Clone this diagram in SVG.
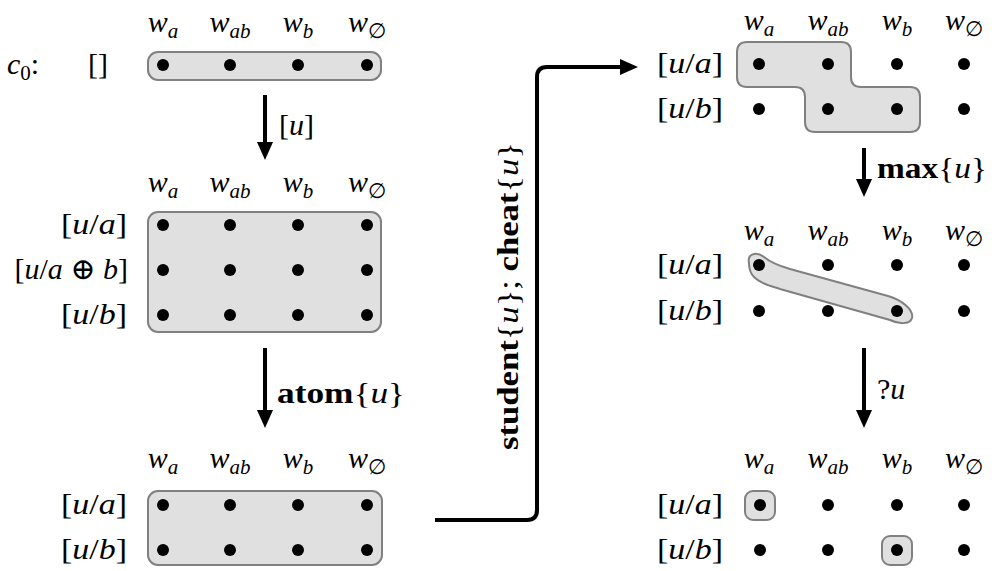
<svg xmlns="http://www.w3.org/2000/svg" width="995" height="571" viewBox="0 0 995 571">
<style>
.t{font-family:"Liberation Serif","DejaVu Serif",serif;font-size:30px;fill:#000}
.i{font-style:italic}
.b{font-weight:bold}
.s{font-size:21px}
.box{fill:#e0e0e0;stroke:#808080;stroke-width:2}
.arr{stroke:#000;stroke-width:4;fill:none;marker-end:url(#ah)}
.cl{text-anchor:middle}
.rl{text-anchor:end}
</style>
<defs>
<marker id="ah" viewBox="0 0 18 16" markerWidth="18" markerHeight="16" refX="1" refY="8" orient="auto" markerUnits="userSpaceOnUse"><path d="M0,0 L18,8 L0,16 Z" fill="#000"/></marker>
<circle id="d" r="6" fill="#000"/>
</defs>

<g id="c0">
<text class="t" x="7" y="74"><tspan class="i">c</tspan><tspan class="s" dy="6">0</tspan><tspan dy="-6">:</tspan></text>
<text class="t" x="88" y="74">[]</text>
<text class="t cl" x="163" y="32"><tspan class="i">w</tspan><tspan class="i s" dy="6">a</tspan></text>
<text class="t cl" x="230" y="32"><tspan class="i">w</tspan><tspan class="i s" dy="6">ab</tspan></text>
<text class="t cl" x="298" y="32"><tspan class="i">w</tspan><tspan class="i s" dy="6">b</tspan></text>
<text class="t cl" x="367" y="32"><tspan class="i">w</tspan><tspan class="s" dy="6">∅</tspan></text>
<rect class="box" x="148" y="52" width="233" height="28" rx="10"/>
<use href="#d" x="163" y="65"/><use href="#d" x="230" y="65"/><use href="#d" x="298" y="65"/><use href="#d" x="367" y="65"/>
</g>

<g id="c1">
<text class="t cl" x="163" y="192"><tspan class="i">w</tspan><tspan class="i s" dy="6">a</tspan></text>
<text class="t cl" x="230" y="192"><tspan class="i">w</tspan><tspan class="i s" dy="6">ab</tspan></text>
<text class="t cl" x="298" y="192"><tspan class="i">w</tspan><tspan class="i s" dy="6">b</tspan></text>
<text class="t cl" x="367" y="192"><tspan class="i">w</tspan><tspan class="s" dy="6">∅</tspan></text>
<text class="t" x="61" y="234" textLength="66" lengthAdjust="spacingAndGlyphs">[<tspan class="i">u</tspan>/<tspan class="i">a</tspan>]</text>
<text class="t rl" x="128" y="279">[<tspan class="i">u</tspan>/<tspan class="i">a</tspan> ⊕ <tspan class="i">b</tspan>]</text>
<text class="t" x="61" y="324" textLength="66" lengthAdjust="spacingAndGlyphs">[<tspan class="i">u</tspan>/<tspan class="i">b</tspan>]</text>
<rect class="box" x="148" y="212" width="233" height="120" rx="10"/>
<use href="#d" x="163" y="225"/><use href="#d" x="230" y="225"/><use href="#d" x="298" y="225"/><use href="#d" x="367" y="225"/>
<use href="#d" x="163" y="270"/><use href="#d" x="230" y="270"/><use href="#d" x="298" y="270"/><use href="#d" x="367" y="270"/>
<use href="#d" x="163" y="315"/><use href="#d" x="230" y="315"/><use href="#d" x="298" y="315"/><use href="#d" x="367" y="315"/>
</g>

<g id="c2">
<text class="t cl" x="163" y="468"><tspan class="i">w</tspan><tspan class="i s" dy="6">a</tspan></text>
<text class="t cl" x="230" y="468"><tspan class="i">w</tspan><tspan class="i s" dy="6">ab</tspan></text>
<text class="t cl" x="298" y="468"><tspan class="i">w</tspan><tspan class="i s" dy="6">b</tspan></text>
<text class="t cl" x="367" y="468"><tspan class="i">w</tspan><tspan class="s" dy="6">∅</tspan></text>
<text class="t" x="61" y="514" textLength="66" lengthAdjust="spacingAndGlyphs">[<tspan class="i">u</tspan>/<tspan class="i">a</tspan>]</text>
<text class="t" x="61" y="559" textLength="66" lengthAdjust="spacingAndGlyphs">[<tspan class="i">u</tspan>/<tspan class="i">b</tspan>]</text>
<rect class="box" x="148" y="491" width="234" height="74" rx="10"/>
<use href="#d" x="163" y="505"/><use href="#d" x="230" y="505"/><use href="#d" x="298" y="505"/><use href="#d" x="367" y="505"/>
<use href="#d" x="163" y="550"/><use href="#d" x="230" y="550"/><use href="#d" x="298" y="550"/><use href="#d" x="367" y="550"/>
</g>

<g id="c3">
<text class="t cl" x="759" y="30"><tspan class="i">w</tspan><tspan class="i s" dy="6">a</tspan></text>
<text class="t cl" x="828" y="30"><tspan class="i">w</tspan><tspan class="i s" dy="6">ab</tspan></text>
<text class="t cl" x="897" y="30"><tspan class="i">w</tspan><tspan class="i s" dy="6">b</tspan></text>
<text class="t cl" x="964" y="30"><tspan class="i">w</tspan><tspan class="s" dy="6">∅</tspan></text>
<text class="t" x="657" y="73" textLength="66" lengthAdjust="spacingAndGlyphs">[<tspan class="i">u</tspan>/<tspan class="i">a</tspan>]</text>
<text class="t" x="657" y="118" textLength="66" lengthAdjust="spacingAndGlyphs">[<tspan class="i">u</tspan>/<tspan class="i">b</tspan>]</text>
<path class="box" d="M747,42 H841 Q851,42 851,52 V77 Q851,87 861,87 H910 Q920,87 920,97 V122 Q920,132 910,132 H815 Q805,132 805,122 V97 Q805,87 795,87 H747 Q737,87 737,77 V52 Q737,42 747,42 Z"/>
<use href="#d" x="759" y="64"/><use href="#d" x="828" y="64"/><use href="#d" x="897" y="64"/><use href="#d" x="964" y="64"/>
<use href="#d" x="759" y="109"/><use href="#d" x="828" y="109"/><use href="#d" x="897" y="109"/><use href="#d" x="964" y="109"/>
</g>

<g id="c4">
<text class="t cl" x="759" y="240"><tspan class="i">w</tspan><tspan class="i s" dy="6">a</tspan></text>
<text class="t cl" x="828" y="240"><tspan class="i">w</tspan><tspan class="i s" dy="6">ab</tspan></text>
<text class="t cl" x="897" y="240"><tspan class="i">w</tspan><tspan class="i s" dy="6">b</tspan></text>
<text class="t cl" x="964" y="240"><tspan class="i">w</tspan><tspan class="s" dy="6">∅</tspan></text>
<text class="t" x="657" y="274" textLength="66" lengthAdjust="spacingAndGlyphs">[<tspan class="i">u</tspan>/<tspan class="i">a</tspan>]</text>
<text class="t" x="657" y="320" textLength="66" lengthAdjust="spacingAndGlyphs">[<tspan class="i">u</tspan>/<tspan class="i">b</tspan>]</text>
<path class="box" d="M749,263 C747,254 756,251 764,257 C770,262 776,265 790,269 L888,296 C902,300 914,310 912,318 C910,325 898,324 890,320 L780,289 C768,285 760,283 754,277 C750,273 749,268 749,263 Z"/>
<use href="#d" x="759" y="265"/><use href="#d" x="828" y="265"/><use href="#d" x="897" y="265"/><use href="#d" x="964" y="265"/>
<use href="#d" x="759" y="311"/><use href="#d" x="828" y="311"/><use href="#d" x="897" y="311"/><use href="#d" x="964" y="311"/>
</g>

<g id="c5">
<text class="t cl" x="759" y="468"><tspan class="i">w</tspan><tspan class="i s" dy="6">a</tspan></text>
<text class="t cl" x="828" y="468"><tspan class="i">w</tspan><tspan class="i s" dy="6">ab</tspan></text>
<text class="t cl" x="897" y="468"><tspan class="i">w</tspan><tspan class="i s" dy="6">b</tspan></text>
<text class="t cl" x="964" y="468"><tspan class="i">w</tspan><tspan class="s" dy="6">∅</tspan></text>
<text class="t" x="657" y="514" textLength="66" lengthAdjust="spacingAndGlyphs">[<tspan class="i">u</tspan>/<tspan class="i">a</tspan>]</text>
<text class="t" x="657" y="559" textLength="66" lengthAdjust="spacingAndGlyphs">[<tspan class="i">u</tspan>/<tspan class="i">b</tspan>]</text>
<rect class="box" x="745" y="491" width="30" height="29" rx="8"/>
<rect class="box" x="882" y="536" width="30" height="29" rx="8"/>
<use href="#d" x="760" y="505"/><use href="#d" x="828" y="505"/><use href="#d" x="897" y="505"/><use href="#d" x="964" y="505"/>
<use href="#d" x="760" y="550"/><use href="#d" x="828" y="550"/><use href="#d" x="897" y="550"/><use href="#d" x="964" y="550"/>
</g>

<g id="connectors">
<path class="arr" d="M265,95 V143"/>
<text class="t" x="279" y="135">[<tspan class="i">u</tspan>]</text>
<path class="arr" d="M265,348 V411"/>
<text class="t" x="277" y="403" textLength="128" lengthAdjust="spacingAndGlyphs"><tspan class="b">atom</tspan>{<tspan class="i">u</tspan>}</text>
<path class="arr" d="M435,520 H527 Q537,520 537,510 V77 Q537,67 547,67 H621"/>
<text class="t" transform="translate(518,450) rotate(-90)" x="0" y="0" textLength="308" lengthAdjust="spacingAndGlyphs"><tspan class="b">student</tspan>{<tspan class="i">u</tspan>}; <tspan class="b">cheat</tspan>{<tspan class="i">u</tspan>}</text>
<path class="arr" d="M864,148 V180"/>
<text class="t" x="877" y="178" textLength="110" lengthAdjust="spacingAndGlyphs"><tspan class="b">max</tspan>{<tspan class="i">u</tspan>}</text>
<path class="arr" d="M864,348 V411"/>
<text class="t" x="877" y="399">?<tspan class="i">u</tspan></text>
</g>
</svg>
